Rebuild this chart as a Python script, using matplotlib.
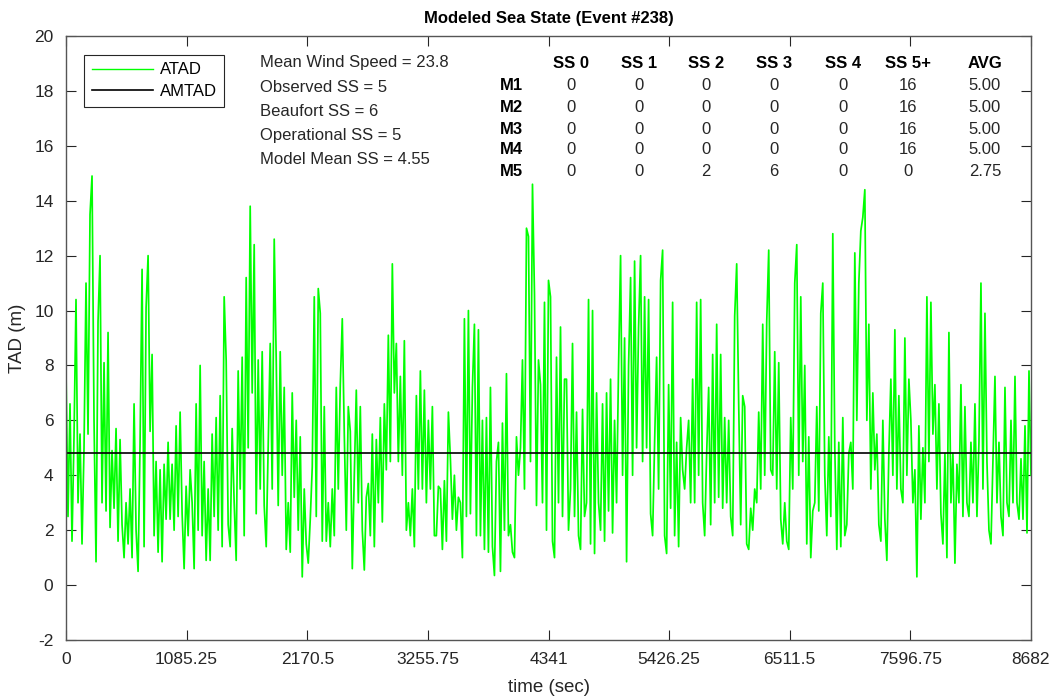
import numpy as np
import matplotlib
matplotlib.use('Agg')
import matplotlib.pyplot as plt

# ATAD trace (one value every ~18 s, 0 .. 8682 s)
atad = [7.8, 2.5, 6.6, 1.6, 5.4, 10.4, 3.0, 5.5, 1.5, 5.0,
        11.0, 5.5, 13.5, 14.9, 6.0, 0.85, 9.6, 12.0, 3.0, 8.1,
        2.7, 9.2, 2.1, 4.9, 2.8, 5.7, 1.6, 5.3, 2.2, 1.0,
        3.0, 1.5, 3.5, 1.0, 6.6, 2.0, 0.5, 5.2, 11.5, 1.4,
        10.1, 12.0, 5.6, 8.4, 1.8, 4.5, 1.2, 4.2, 0.85, 4.4,
        2.4, 5.2, 2.4, 4.4, 2.0, 5.8, 2.5, 6.3, 2.6, 0.6,
        3.6, 1.8, 4.2,
        3.0, 0.6, 6.6, 2.0, 8.0, 1.8, 4.5, 0.9, 3.5, 0.9,
        5.5, 2.5, 6.1, 2.0, 6.9, 1.4, 10.5, 8.2, 2.2, 1.4,
        5.7, 3.0, 0.9, 7.8, 3.5, 8.3, 1.8, 11.2, 5.0, 13.8,
        7.0, 12.4, 2.6, 8.2, 3.5, 8.5, 2.9, 1.4, 5.2, 8.8,
        3.5, 12.6, 8.2, 2.9, 8.5, 4.0, 7.2, 1.3, 3.0, 1.2,
        7.0, 3.2, 6.0, 2.0, 5.4, 0.3, 3.5, 1.5, 0.8, 2.4,
        4.3, 10.5,
        2.5, 10.8, 9.9, 1.6, 6.5, 1.6, 3.0, 1.4, 3.5, 1.8,
        7.2, 3.5, 7.3, 9.7, 5.5, 2.0, 6.5, 5.6, 0.6, 4.0,
        7.1, 3.0, 6.5, 2.0, 0.55, 3.2, 3.7, 1.8, 5.5, 1.4,
        5.3, 3.0, 6.1, 2.3, 6.6, 4.2, 9.1, 4.5, 11.7, 7.0,
        8.8, 4.5, 7.6, 4.0, 8.9, 2.0, 3.0, 1.8, 3.5, 1.4,
        6.9, 3.5, 7.8, 3.5, 7.1, 3.0, 6.0, 3.5, 6.5, 1.8,
        1.8, 3.6,
        3.5, 1.3, 3.8, 1.6, 6.3, 4.6, 2.4, 4.0, 2.0, 3.2,
        3.0, 1.0, 9.7, 2.5, 10.0, 2.6, 7.2, 9.5, 1.8, 9.3,
        1.8, 6.0, 1.3, 6.1, 1.2, 7.2, 1.4, 0.35, 4.5, 5.2,
        0.5, 5.9, 2.0, 7.7, 1.8, 2.2, 1.2, 1.0, 5.4, 4.0,
        5.0, 8.2, 3.5, 13.0, 12.7, 4.5, 14.6, 10.6, 2.9, 8.2,
        7.3, 3.0, 10.3, 2.0, 11.1, 10.5, 1.6, 1.0, 8.3, 3.0,
        9.4, 2.5, 7.5,
        7.5, 2.0, 3.5, 8.8, 2.5, 6.3, 1.8, 1.3, 6.4, 2.5,
        3.0, 10.4, 1.5, 10.0, 1.15, 7.0, 3.0, 2.0, 6.6, 1.6,
        7.0, 2.7, 7.5, 1.9, 6.0, 3.0, 8.0, 12.0, 4.0, 9.0,
        0.85, 8.0, 11.2, 4.0, 11.8, 5.0, 9.4, 12.0, 4.5, 10.5,
        5.0, 10.4, 2.6, 1.8, 5.2, 8.3, 3.5, 11.1, 12.2, 1.8,
        1.15, 7.3, 2.8, 10.3, 1.8, 5.2, 1.4, 6.1, 4.2, 3.5,
        5.0, 6.0, 3.0,
        7.5, 3.0, 10.3, 4.0, 10.4, 3.0, 1.8, 4.8, 7.2, 2.2,
        8.4, 3.0, 9.5, 3.2, 8.4, 2.8, 6.1, 3.0, 6.0, 2.5,
        1.8, 9.8, 11.7, 6.6, 2.2, 6.9, 6.5, 1.5, 1.3, 2.8,
        2.0, 3.5, 3.0, 6.3, 3.5, 9.5, 4.0, 9.6, 12.2, 4.2,
        4.0, 8.5, 3.5, 8.1, 2.4, 1.5, 3.0, 1.6, 1.3, 6.1,
        3.5, 11.0, 12.4, 4.0, 10.5, 4.5, 8.0, 1.5, 5.4, 1.0,
        2.7, 3.0,
        6.5, 2.7, 9.9, 11.0, 4.0, 1.8, 5.4, 2.5, 12.8, 5.0,
        1.3, 5.2, 1.4, 6.1, 1.8, 2.2, 4.8, 5.2, 3.5, 12.1,
        6.0, 11.0, 12.9, 13.4, 14.4, 6.0, 9.5, 3.5, 7.0, 4.2,
        5.5, 2.2, 1.6, 6.0, 2.4, 0.9, 4.8, 7.5, 4.0, 9.3,
        3.5, 6.9, 3.5, 3.0, 9.0, 4.0, 7.5, 6.0, 3.0, 4.2,
        0.3, 5.8, 2.4, 5.0, 3.0, 10.5, 4.5, 10.3, 5.5, 7.3,
        3.5, 6.6, 2.6,
        1.5, 4.8, 1.0, 9.2, 3.0, 4.8, 0.8, 4.4, 3.0, 7.3,
        2.5, 6.5, 3.0, 2.5, 5.2, 3.0, 6.6, 2.5, 5.2, 11.0,
        3.5, 9.9, 4.5, 2.0, 1.5, 4.6, 7.6, 3.0, 5.2, 2.5,
        1.8, 7.2, 3.0, 2.5, 6.0, 3.0, 7.6, 3.0, 2.4, 4.6,
        2.4, 5.8, 1.9, 7.8, 4.0]
amtad = 4.8
t_end = 8682

info_lines = ['Mean Wind Speed = 23.8', 'Observed SS = 5', 'Beaufort SS = 6',
              'Operational SS = 5', 'Model Mean SS = 4.55']
ss_cols = ['SS 0', 'SS 1', 'SS 2', 'SS 3', 'SS 4', 'SS 5+', 'AVG']
models = ['M1', 'M2', 'M3', 'M4', 'M5']
counts = [[0, 0, 0, 0, 0, 16],
          [0, 0, 0, 0, 0, 16],
          [0, 0, 0, 0, 0, 16],
          [0, 0, 0, 0, 0, 16],
          [0, 0, 2, 6, 0, 0]]
avg_ss = [5.00, 5.00, 5.00, 5.00, 2.75]

xticks = [0, 1085.25, 2170.5, 3255.75, 4341, 5426.25, 6511.5, 7596.75, 8682]

plt.rcParams['font.family'] = ['Liberation Sans', 'DejaVu Sans']
plt.rcParams['axes.unicode_minus'] = False
axcol = '#262626'

fig = plt.figure(figsize=(10.62, 6.99), dpi=100)
ax = fig.add_axes([66/1062, 1 - 640/699, 965/1062, 604/699])

time = np.arange(len(atad)) * t_end / (len(atad) - 1)
ax.plot(time, atad, color='#00ff00', lw=1.25, label='ATAD')
ax.plot([0, t_end], [amtad, amtad], color='black', lw=1.2, label='AMTAD')

ax.set_xlim(0, t_end)
ax.set_ylim(-2, 20)
ax.set_xticks(xticks)
ax.set_xticklabels(['{:g}'.format(v) for v in xticks])
ax.set_yticks(range(-2, 21, 2))
ax.tick_params(direction='in', length=7, width=0.8, top=True, right=True,
               labelsize=12.5, colors=axcol, pad=9)
for s in ax.spines.values():
    s.set_color('#555555')
    s.set_linewidth(1.0)

ax.set_xlabel('time (sec)', fontsize=13.5, color=axcol, labelpad=8)
ax.set_ylabel('TAD (m)', fontsize=13.5, color=axcol, labelpad=6)
ax.set_title('Modeled Sea State (Event #238)', fontsize=12, fontweight='bold', pad=9)

leg = ax.legend(loc='upper left', bbox_to_anchor=(18/965, 585/604), borderaxespad=0,
                fontsize=12, handlelength=3.7, handletextpad=0.4, labelspacing=0.4,
                borderpad=0.45, fancybox=False, framealpha=1)
leg.get_frame().set_edgecolor(axcol)
leg.get_frame().set_linewidth(0.8)
leg.get_lines()[0].set_linewidth(1.0)


def axpos(px, py):
    return (px - 66) / 965, (640 - py) / 604


for i, line in enumerate(info_lines):
    ax.text(*axpos(260, 63 + 24.2 * i), line, transform=ax.transAxes, fontsize=12,
            color=axcol, ha='left', va='center')

col_x = [571, 639, 706, 774, 843, 908, 985]
row_y = [63, 86, 107, 129, 150, 172]
for j, name in enumerate(ss_cols):
    ax.text(*axpos(col_x[j], row_y[0]), name, transform=ax.transAxes, fontsize=12,
            fontweight='bold', ha='center', va='center')
for i, m in enumerate(models):
    y = row_y[i + 1]
    ax.text(*axpos(500, y), m, transform=ax.transAxes, fontsize=12,
            fontweight='bold', ha='left', va='center')
    for j, c in enumerate(counts[i]):
        ax.text(*axpos(col_x[j], y), str(c), transform=ax.transAxes, fontsize=12,
                color=axcol, ha='center', va='center')
    ax.text(*axpos(col_x[6], y), '%.2f' % avg_ss[i], transform=ax.transAxes,
            fontsize=12, color=axcol, ha='center', va='center')

fig.savefig('out.png', dpi=100)
